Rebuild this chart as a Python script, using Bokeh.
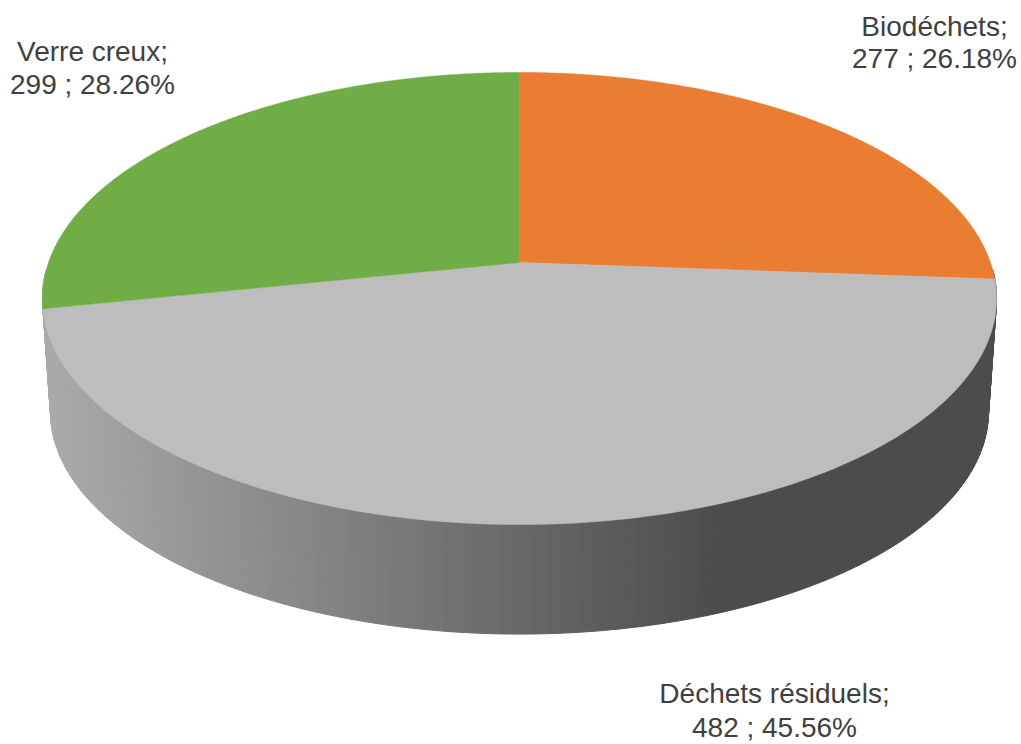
import numpy as np
from bokeh.plotting import figure
from bokeh.models import Range1d
from bokeh.core.properties import value
from bokeh.embed import file_html
from bokeh.resources import INLINE

categories = ["Biodéchets", "Déchets résiduels", "Verre creux"]
values = [277, 482, 299]
colors = ["#EB7D32", "#BDBDBD", "#70AD47"]

# Perspective projection of the pie disc, in pixel units of the data range
CX, APEX_Y, HALF_W, DEPTH, PERSP = 519.0, 262.0, 471.0, 220.3, 0.1593
WALL_SCALE, WALL_Y = 0.983, 376.0


def project(theta, scale=1.0, y0=APEX_Y):
    u, v = np.sin(theta), np.cos(theta)
    w = 1 + PERSP * v
    return CX + scale * HALF_W * u / w, y0 - scale * DEPTH * v / w


def wall_shade(x):
    t = np.clip((x - 50) / (720 - 50), 0, 1)
    g = int(round(170 + (76 - 170) * t))
    return f"#{g:02x}{g:02x}{g:02x}"


p = figure(width=1021, height=744, output_backend="svg", toolbar_location=None,
           x_range=Range1d(0, 1021), y_range=Range1d(744, 0), min_border=0)
p.axis.visible = False
p.grid.visible = False
p.outline_line_color = None
p.background_fill_color = "white"

# Side wall: narrow strips, shaded by horizontal position (front half only)
edges = np.radians(np.linspace(92, 268, 177))
xs, ys, shades = [], [], []
for a, b in zip(edges[:-1], edges[1:]):
    xa, ya = project(a)
    xb, yb = project(b)
    xc, yc = project(b, WALL_SCALE, WALL_Y)
    xd, yd = project(a, WALL_SCALE, WALL_Y)
    xs.append([xa, xb, xc, xd])
    ys.append([ya, yb, yc, yd])
    shades.append(wall_shade((xa + xb + xc + xd) / 4))
p.patches(xs, ys, fill_color=shades, line_color=shades, line_width=1)

# Top face: slices clockwise from twelve o'clock, sized by the values
total = sum(values)
fractions = np.cumsum([0] + values) / total
slice_x, slice_y = [], []
for start, end in zip(fractions[:-1], fractions[1:]):
    th = np.linspace(start, end, 240) * 2 * np.pi
    x, y = project(th)
    slice_x.append([CX, *x])
    slice_y.append([APEX_Y, *y])
p.patches(slice_x, slice_y, fill_color=colors, line_color=colors, line_width=0.5)

# Data labels (two lines, centred)
label_x = [934, 774, 92]
label_y1 = [26, 693, 51]
label_y2 = [58, 727, 84]
line1 = [f"{c};" for c in categories]
line2 = [f"{v} ; {v / total * 100:.2f}%" for v in values]
for ly, txt in ((label_y1, line1), (label_y2, line2)):
    p.text(label_x, ly, text=txt, text_font=value("Liberation Sans"),
           text_font_size="28px", text_color="#404040",
           text_align="center", text_baseline="alphabetic")

open("out.html", "w").write(file_html(p, INLINE))
